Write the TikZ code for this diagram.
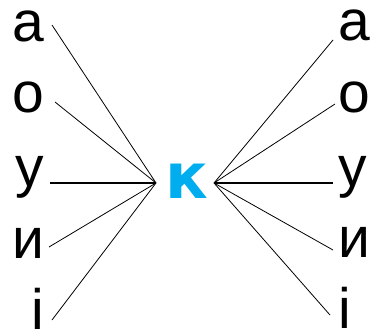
\documentclass[tikz,border=0pt]{standalone}
\usepackage{fontspec}
\setmainfont{Liberation Sans}
\newfontfamily\kfont{DejaVu Sans}
\definecolor{kblue}{HTML}{00AEEF}
\begin{document}
\begin{tikzpicture}[x=1pt,y=-1pt,
  letter/.style={inner sep=0pt,outer sep=0pt,font=\fontsize{57}{57}\selectfont},
  lft/.style={letter,anchor=base east},
  rgt/.style={letter,anchor=base west},
  conn/.style={line width=0.8pt,black},
  thick conn/.style={line width=1.3pt,black}]
\useasboundingbox (0,0) rectangle (374,334);
% left letters
\node[lft] (La) at (44.5,42) {а};
\node[lft] (Lo) at (44.5,113) {о};
\node[lft] (Lu) at (44.5,186) {у};
\node[lft] (Li) at (44.5,258) {и};
\node[lft] (Lii) at (44.5,329) {і};
% right letters
\node[rgt] (Ra) at (338.5,41) {а};
\node[rgt] (Ro) at (338.5,113) {о};
\node[rgt] (Ru) at (338.5,186) {у};
\node[rgt] (Ri) at (338.5,257) {и};
\node[rgt] (Rii) at (338.5,328) {і};
% centre
\node[letter,anchor=base,text=kblue,font=\fontsize{63}{63}\selectfont\kfont\bfseries] (K) at (186.5,198) {к};
% hubs
\coordinate (HL) at (156,183);
\coordinate (HR) at (214,183);
% line ends
\coordinate (la) at (52,25);
\coordinate (lo) at (55,102);
\coordinate (lu) at (50,183);
\coordinate (li) at (49,247);
\coordinate (lii) at (52,320);
\coordinate (ra) at (333,40);
\coordinate (ro) at (335,104);
\coordinate (ru) at (333,183);
\coordinate (ri) at (333,250);
\coordinate (rii) at (330,315);
\draw[conn] (la) -- (HL);
\draw[conn] (lo) -- (HL);
\draw[thick conn] (lu) -- (HL);
\draw[conn] (li) -- (HL);
\draw[conn] (lii) -- (HL);
\draw[conn] (ra) -- (HR);
\draw[conn] (ro) -- (HR);
\draw[thick conn] (ru) -- (HR);
\draw[conn] (ri) -- (HR);
\draw[conn] (rii) -- (HR);
\end{tikzpicture}
\end{document}
